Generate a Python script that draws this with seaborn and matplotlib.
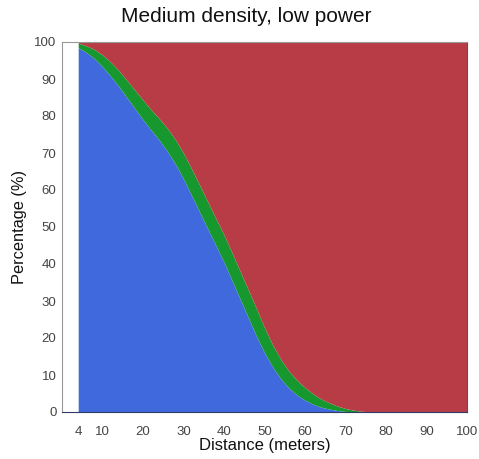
import matplotlib
matplotlib.use("Agg")
import matplotlib.pyplot as plt
import seaborn as sns

# Distance (m) and share of each outcome (%), stacked bottom to top
distance = [4, 6, 8, 10, 12, 14, 16, 18, 20, 22, 24, 26, 28, 30, 32, 34, 36, 38, 40,
            42, 44, 46, 48, 50, 52, 54, 56, 58, 60, 62, 64, 66, 68, 70, 72, 74, 76, 78, 80, 90, 100]
blue_pct = [98.5, 97.2, 95.5, 93.3, 90.8, 88.0, 85.0, 82.0, 79.0, 76.2, 73.5, 70.5, 67.0, 63.0, 58.5, 54.0, 49.5, 45.0, 40.5,
            35.5, 30.5, 25.5, 20.5, 16.0, 12.2, 9.0, 6.5, 4.6, 3.2, 2.1, 1.3, 0.8, 0.4, 0.15, 0.05, 0.0, 0.0, 0.0, 0.0, 0.0, 0.0]
green_pct = [1.2, 1.8, 2.5, 3.2, 3.8, 4.3, 4.7, 5.0, 5.3, 5.5, 5.8, 6.2, 6.6, 7.0, 7.2, 7.3, 7.3, 7.3, 7.4,
             7.5, 7.5, 7.5, 7.5, 6.8, 6.0, 5.3, 4.6, 4.0, 3.4, 2.8, 2.2, 1.7, 1.2, 0.8, 0.45, 0.2, 0.05, 0.0, 0.0, 0.0, 0.0]
red_pct = [100 - b - g for b, g in zip(blue_pct, green_pct)]

x_ticks = [4, 10, 20, 30, 40, 50, 60, 70, 80, 90, 100]
y_ticks = list(range(0, 101, 10))

sns.set_theme(style="white")
plt.rcParams["font.family"] = ["Liberation Sans", "DejaVu Sans"]

fig = plt.figure(figsize=(4.79, 4.59), dpi=100)
ax = fig.add_axes([62 / 479, 1 - 412 / 459, 405 / 479, 370 / 459])

colors = ["#4169DE", "#16982E", "#B83C46"]
ax.stackplot(distance, blue_pct, green_pct, red_pct, colors=colors, linewidth=0)

ax.set_xlim(0, 100)
ax.set_ylim(0, 100)
ax.set_xticks(x_ticks)
ax.set_yticks(y_ticks)
ax.tick_params(axis="both", direction="in", length=3, width=0.6, color="#888888",
               labelsize=9.5, labelcolor="#444444")
ax.tick_params(axis="y", pad=4)
ax.tick_params(axis="x", pad=10)
for side in ["left", "bottom", "top", "right"]:
    ax.spines[side].set_color("#999999")
    ax.spines[side].set_linewidth(0.8)
ax.spines["bottom"].set_color("#2c3c66")
ax.spines["right"].set_color("#555555")

ax.set_xlabel("Distance (meters)", fontsize=12, color="#111111", labelpad=0)
ax.set_ylabel("Percentage (%)", fontsize=11.8, color="#111111", labelpad=5)
fig.text(246 / 479, 1 - 17 / 459, "Medium density, low power", fontsize=15,
         color="#111111", ha="center", va="center")

fig.savefig("out.png", dpi=100)
